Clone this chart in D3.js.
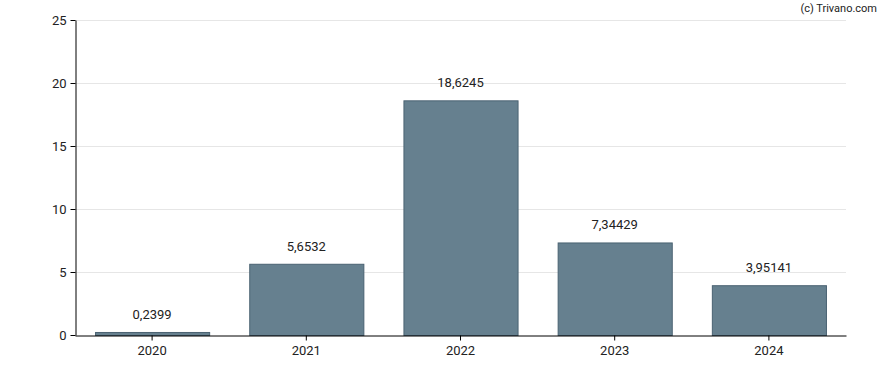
<!DOCTYPE html>
<html>
<head>
<meta charset="utf-8">
<script src="https://cdn.jsdelivr.net/npm/d3@7"></script>
<style>
  body { margin: 0; background: #fff; }
  svg text { font-family: Roboto, "Liberation Sans", sans-serif; }
</style>
</head>
<body>
<div id="chart"></div>
<script>
const years = ["2020", "2021", "2022", "2023", "2024"];
const values = [0.2399, 5.6532, 18.6245, 7.34429, 3.95141];
const valueLabels = ["0,2399", "5,6532", "18,6245", "7,34429", "3,95141"];
const yTicks = [0, 5, 10, 15, 20, 25];

const width = 888, height = 370;
const margin = {top: 20, right: 42, bottom: 35, left: 75};

const svg = d3.select("#chart").append("svg")
  .attr("width", width)
  .attr("height", height);

const x = d3.scaleBand()
  .domain(years)
  .range([margin.left, width - margin.right])
  .paddingInner(0.26)
  .paddingOuter(0.13);

const y = d3.scaleLinear()
  .domain([0, 25])
  .range([height - margin.bottom, margin.top]);

// gridlines
svg.append("g")
  .selectAll("line")
  .data(yTicks.slice(1))
  .enter().append("line")
  .attr("x1", margin.left)
  .attr("x2", width - margin.right)
  .attr("y1", d => y(d) + 0.5)
  .attr("y2", d => y(d) + 0.5)
  .attr("stroke", "#e6e6e6")
  .attr("stroke-width", 1);

// bars
svg.append("g")
  .selectAll("rect")
  .data(values)
  .enter().append("rect")
  .attr("x", (d, i) => x(years[i]) + 0.5)
  .attr("y", d => y(d) + 0.5)
  .attr("width", x.bandwidth())
  .attr("height", d => y(0) - y(d))
  .attr("fill", "#66808f")
  .attr("stroke", "#4a6272")
  .attr("stroke-width", 1);

// value labels
svg.append("g")
  .selectAll("text")
  .data(values)
  .enter().append("text")
  .attr("x", (d, i) => x(years[i]) + x.bandwidth() / 2)
  .attr("y", d => y(d) - 13)
  .attr("text-anchor", "middle")
  .style("font-size", "13px")
  .attr("fill", "#222")
  .text((d, i) => valueLabels[i]);

// y axis
const yAxis = svg.append("g")
  .attr("transform", "translate(" + (margin.left + 0.5) + ",0)")
  .call(d3.axisLeft(y).tickValues(yTicks).tickSize(5).tickSizeOuter(0));
yAxis.selectAll("text").style("font-size", "13px").attr("fill", "#222").attr("dx", "-1");
yAxis.select(".domain").attr("stroke", "#000");
yAxis.selectAll(".tick line").attr("stroke", "#000");

// x axis
const xAxis = svg.append("g")
  .attr("transform", "translate(0," + (y(0) + 0.5) + ")")
  .call(d3.axisBottom(x).tickSize(5).tickSizeOuter(0));
xAxis.selectAll("text").style("font-size", "13px").attr("fill", "#222").attr("dy", "0.85em");
xAxis.select(".domain").attr("stroke", "#000");
xAxis.selectAll(".tick line").attr("stroke", "#000");

// copyright
svg.append("text")
  .attr("x", 877)
  .attr("y", 12)
  .attr("text-anchor", "end")
  .style("font-size", "11px")
  .attr("fill", "#222")
  .text("(c) Trivano.com");
</script>
</body>
</html>
